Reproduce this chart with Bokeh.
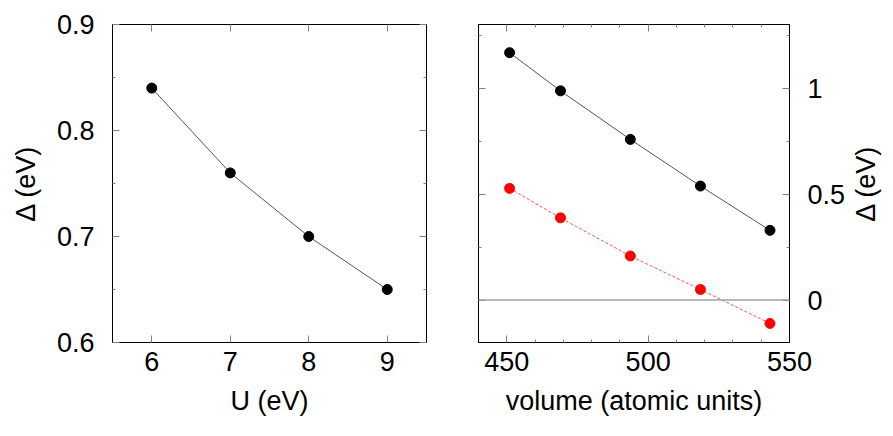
import math
from bokeh.plotting import figure
from bokeh.models import (Range1d, FixedTicker, LinearAxis, Span, ColumnDataSource)
from bokeh.layouts import row
from bokeh.embed import file_html
from bokeh.resources import INLINE

# ---- data ----
U_values = [6, 7, 8, 9]
delta_U = [0.84, 0.76, 0.70, 0.65]

volume = [451.0, 469.0, 493.7, 518.5, 543.1]
delta_black = [1.167, 0.987, 0.758, 0.538, 0.329]
delta_red = [0.527, 0.388, 0.208, 0.050, -0.110]

left_xticks = [6, 7, 8, 9]
left_yticks = [0.6, 0.7, 0.8, 0.9]
left_yminor = [0.65, 0.75, 0.85]
right_xticks = [450, 500, 550]
right_xminor = [440, 460, 470, 480, 490, 510, 520, 530, 540]
right_yticks = [0, 0.5, 1]
right_yminor = [0.25, 0.75, 1.25]

FONT = "Liberation Sans"
FS = "27px"
TICK_COLOR = "#808080"


def style_axis(ax, show_labels=True):
    ax.major_tick_in = 7
    ax.major_tick_out = 0
    ax.minor_tick_in = 3
    ax.minor_tick_out = 0
    ax.major_tick_line_color = TICK_COLOR
    ax.minor_tick_line_color = TICK_COLOR
    ax.axis_line_color = "black"
    ax.axis_line_width = 1
    ax.major_label_text_font = FONT
    ax.major_label_text_font_size = FS
    ax.major_label_text_color = "black"
    ax.axis_label_text_font = FONT
    ax.axis_label_text_font_size = FS
    ax.axis_label_text_font_style = "normal"
    ax.axis_label_text_color = "black"
    if not show_labels:
        ax.major_label_overrides = {t: "" for t in ax.ticker.ticks}
        ax.major_label_standoff = 0


# ---- left panel ----
p1 = figure(width=446, height=428, output_backend="svg", toolbar_location=None,
            x_range=Range1d(5.5, 9.5), y_range=Range1d(0.6, 0.9),
            min_border_left=112, min_border_right=20, min_border_top=24, min_border_bottom=86)
p1.grid.visible = False
p1.outline_line_color = "black"
p1.outline_line_width = 1
p1.background_fill_color = "white"
p1.border_fill_color = "white"

p1.xaxis.ticker = FixedTicker(ticks=left_xticks, minor_ticks=[])
p1.yaxis.ticker = FixedTicker(ticks=left_yticks, minor_ticks=left_yminor)
p1.xaxis.axis_label = "U (eV)"
p1.yaxis.axis_label = "Δ (eV)"
for ax in p1.xaxis + p1.yaxis:
    style_axis(ax)
p1.xaxis.major_label_standoff = 9
p1.xaxis.axis_label_standoff = 12
p1.yaxis.major_label_standoff = 18
p1.yaxis.axis_label_standoff = 13

top1 = LinearAxis(ticker=FixedTicker(ticks=left_xticks, minor_ticks=[]))
right1 = LinearAxis(ticker=FixedTicker(ticks=left_yticks, minor_ticks=left_yminor))
for ax in (top1, right1):
    style_axis(ax, show_labels=False)
p1.add_layout(top1, "above")
p1.add_layout(right1, "right")

src1 = ColumnDataSource(dict(x=U_values, y=delta_U))
p1.line("x", "y", source=src1, line_color="#555555", line_width=1)
p1.scatter("x", "y", source=src1, size=10, fill_color="black", line_color="black")

# ---- right panel ----
p2 = figure(width=402, height=428, output_backend="svg", toolbar_location=None,
            x_range=Range1d(440, 550), y_range=Range1d(-0.2, 1.3),
            y_axis_location="right",
            min_border_left=32, min_border_right=56, min_border_top=24, min_border_bottom=86)
p2.grid.visible = False
p2.outline_line_color = "black"
p2.outline_line_width = 1
p2.background_fill_color = "white"
p2.border_fill_color = "white"

p2.xaxis.ticker = FixedTicker(ticks=right_xticks, minor_ticks=right_xminor)
p2.yaxis.ticker = FixedTicker(ticks=right_yticks, minor_ticks=right_yminor)
p2.xaxis.axis_label = "volume (atomic units)"
for ax in p2.xaxis + p2.yaxis:
    style_axis(ax)
p2.xaxis.major_label_standoff = 9
p2.xaxis.axis_label_standoff = 12
p2.yaxis.major_label_standoff = 18

top2 = LinearAxis(ticker=FixedTicker(ticks=right_xticks, minor_ticks=right_xminor))
left2 = LinearAxis(ticker=FixedTicker(ticks=right_yticks, minor_ticks=right_yminor))
for ax in (top2, left2):
    style_axis(ax, show_labels=False)
p2.add_layout(top2, "above")
p2.add_layout(left2, "left")

p2.add_layout(Span(location=0, dimension="width", line_color="#a0a0a0", line_width=1.5))

src_b = ColumnDataSource(dict(x=volume, y=delta_black))
src_r = ColumnDataSource(dict(x=volume, y=delta_red))
p2.line("x", "y", source=src_b, line_color="#555555", line_width=1)
p2.scatter("x", "y", source=src_b, size=10, fill_color="black", line_color="black")
p2.line("x", "y", source=src_r, line_color="#ff5050", line_width=1, line_dash="3 2")
p2.scatter("x", "y", source=src_r, size=10, fill_color="red", line_color="red")

# ---- right-hand y label strip (reads bottom-to-top, centred on the frame) ----
p3 = figure(width=34, height=428, output_backend="svg", toolbar_location=None,
            x_range=Range1d(0, 1), y_range=Range1d(-0.2, 1.3),
            x_axis_location=None, y_axis_location="left",
            min_border_left=28, min_border_right=2, min_border_top=24, min_border_bottom=86)
p3.grid.visible = False
p3.outline_line_color = None
p3.background_fill_color = "white"
p3.border_fill_color = "white"
p3.yaxis.ticker = FixedTicker(ticks=[], minor_ticks=[])
p3.yaxis.axis_label = "Δ (eV)"
style_axis(p3.yaxis[0])
p3.yaxis.axis_line_color = None
p3.yaxis.major_tick_in = 0
p3.yaxis.minor_tick_in = 0
p3.yaxis.major_label_standoff = 0
p3.yaxis.axis_label_standoff = 0

layout = row(p1, p2, p3)
open("out.html", "w").write(file_html(layout, INLINE))
